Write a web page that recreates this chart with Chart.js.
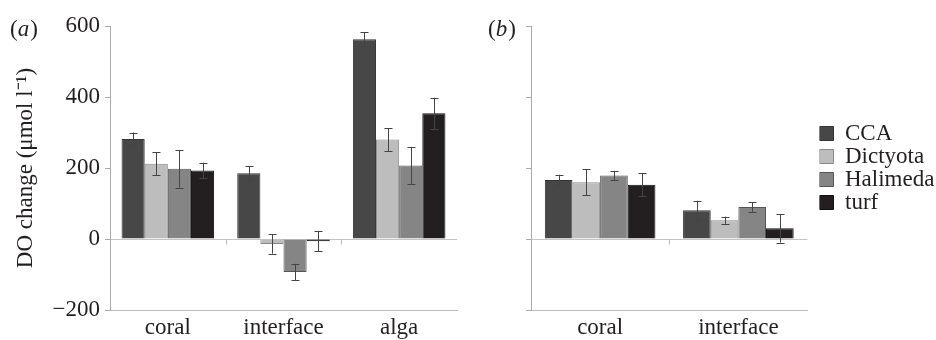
<!DOCTYPE html>
<html><head><meta charset="utf-8">
<script src="https://cdn.jsdelivr.net/npm/chart.js@4/dist/chart.umd.min.js"></script>
<style>
html,body{margin:0;padding:0;background:#fff;}
#wrap{position:relative;width:936px;height:340px;overflow:hidden;}
#ca{position:absolute;left:0;top:0;}
#cb{position:absolute;left:470px;top:0;}
.pre{font-family:"Liberation Serif";position:absolute;left:-999px;top:0;}
</style></head><body>
<div id="wrap"><canvas id="ca" width="470" height="340"></canvas><canvas id="cb" width="466" height="340"></canvas></div>
<span class="pre">x</span><span class="pre" style="font-style:italic">x</span>
<script>
// ---- data ----
const seriesNames = ['CCA', 'Dictyota', 'Halimeda', 'turf'];
const catsA = ['coral', 'interface', 'alga'];
const catsB = ['coral', 'interface'];
// panel (a) means and error (+/-)
const A_CCA = [282, 185, 563];
const A_Dictyota = [212, -14, 280];
const A_Halimeda = [198, -93, 207];
const A_turf = [193, -6, 354];
const A_CCA_err = [18, 20, 19];
const A_Dictyota_err = [33, 27, 32];
const A_Halimeda_err = [53, 23, 52];
const A_turf_err = [22, 29, 44];
// panel (b)
const B_CCA = [166, 81];
const B_Dictyota = [160, 53];
const B_Halimeda = [179, 90];
const B_turf = [153, 30];
const B_CCA_err = [15, 27];
const B_Dictyota_err = [37, 10];
const B_Halimeda_err = [13, 13];
const B_turf_err = [33, 40];
const yTicks = [-200, 0, 200, 400, 600];

const fills = ['#474747', '#bdbdbd', '#858585', '#231f20'];
const borders = ['#333', '#8a8a8a', '#555', '#111'];
const SERIF = '"Liberation Serif", "Times New Roman", Times, serif';
const TXT = '#231f20';

function mkDatasets(vals, errs) {
  return vals.map((v, i) => ({
    label: seriesNames[i], data: v, errors: errs[i],
    backgroundColor: fills[i], borderColor: borders[i], borderWidth: 1,
    categoryPercentage: 0.8, barPercentage: 1.0, yAxisID: 'y'
  }));
}

const errorBars = {
  id: 'errorBars',
  afterDatasetsDraw(chart) {
    const ctx = chart.ctx, ys = chart.scales.y, xs = chart.scales.x;
    ctx.save();
    // small separator ticks on the zero line between categories
    ctx.strokeStyle = '#bbb'; ctx.lineWidth = 1;
    const y0 = Math.round(ys.getPixelForValue(0)) + 0.5;
    for (let i = 0; i < xs.ticks.length - 1; i++) {
      const xm = Math.round((xs.getPixelForTick(i) + xs.getPixelForTick(i + 1)) / 2) + 0.5;
      ctx.beginPath(); ctx.moveTo(xm, y0); ctx.lineTo(xm, y0 + 5); ctx.stroke();
    }
    ctx.strokeStyle = '#444';
    chart.data.datasets.forEach((ds, di) => {
      const meta = chart.getDatasetMeta(di);
      meta.data.forEach((el, i) => {
        const v = ds.data[i], e = ds.errors[i];
        const x = Math.round(el.x) + 0.5;
        const y1 = ys.getPixelForValue(v + e), y2 = ys.getPixelForValue(v - e);
        ctx.beginPath();
        ctx.moveTo(x, y1); ctx.lineTo(x, y2);
        ctx.moveTo(x - 4, Math.round(y1) + 0.5); ctx.lineTo(x + 4, Math.round(y1) + 0.5);
        ctx.moveTo(x - 4, Math.round(y2) + 0.5); ctx.lineTo(x + 4, Math.round(y2) + 0.5);
        ctx.stroke();
      });
    });
    ctx.restore();
  }
};

function panelLabel(letter, x, y) {
  return {
    id: 'panelLabel',
    afterDraw(chart) {
      const ctx = chart.ctx;
      ctx.save();
      ctx.fillStyle = TXT; ctx.textBaseline = 'alphabetic';
      ctx.font = '23px ' + SERIF;
      ctx.fillText('(', x, y);
      let w = ctx.measureText('(').width;
      ctx.font = 'italic 23px ' + SERIF;
      ctx.fillText(letter, x + w, y);
      w += ctx.measureText(letter).width + 1;
      ctx.font = '23px ' + SERIF;
      ctx.fillText(')', x + w, y);
      ctx.restore();
    }
  };
}

function yScale(showLabels, width, title) {
  return {
    min: -200, max: 600,
    afterBuildTicks: s => { s.ticks = yTicks.map(v => ({ value: v })); },
    afterFit: s => { s.width = width; },
    ticks: { display: showLabels, padding: 5, color: TXT, font: { family: SERIF, size: 23 },
             callback: v => String(v).replace('-', '\u2212') },
    grid: {
      color: c => (c.tick && c.tick.value === 0) ? '#c4c4c4' : 'rgba(0,0,0,0)',
      tickColor: '#aaa', tickLength: 5, lineWidth: 1
    },
    border: { display: true, color: '#aaa', width: 1 },
    title: title ? { display: true, text: title, align: 'center', color: TXT, font: { family: SERIF, size: 23 }, padding: { top: 12, bottom: 0 } } : { display: false }
  };
}
function xScale(h) {
  return {
    afterFit: s => { s.height = h; },
    grid: { display: false, drawTicks: false },
    border: { display: true, color: '#bbb', width: 1 },
    ticks: { padding: 4, color: TXT, font: { family: SERIF, size: 23 } }
  };
}
// empty, invisible spacer axis that keeps a gap between plot and legend
function spacer(w) {
  return {
    type: 'linear', position: 'right', min: 0, max: 1, display: false,
    afterFit: s => { s.width = w; }
  };
}

function draw() {
  new Chart(document.getElementById('ca'), {
    type: 'bar',
    data: { labels: catsA, datasets: mkDatasets([A_CCA, A_Dictyota, A_Halimeda, A_turf], [A_CCA_err, A_Dictyota_err, A_Halimeda_err, A_turf_err]) },
    options: {
      responsive: false, animation: false,
      layout: { padding: { top: 26, right: 13, left: 0, bottom: 0 } },
      plugins: { legend: { display: false }, tooltip: { enabled: false } },
      scales: { x: xScale(30), y: yScale(true, 110, 'DO change (μmol l⁻¹)') }
    },
    plugins: [errorBars, panelLabel('a', 10, 36)]
  });

  new Chart(document.getElementById('cb'), {
    type: 'bar',
    data: { labels: catsB, datasets: mkDatasets([B_CCA, B_Dictyota, B_Halimeda, B_turf], [B_CCA_err, B_Dictyota_err, B_Halimeda_err, B_turf_err]) },
    options: {
      responsive: false, animation: false,
      layout: { padding: { top: 26, right: 0, left: 0, bottom: 0 } },
      plugins: {
        legend: {
          display: true, position: 'right', align: 'center', fullSize: false,
          labels: { boxWidth: 14, boxHeight: 14, padding: 0, color: TXT, font: { family: SERIF, size: 23 } }
        },
        tooltip: { enabled: false }
      },
      scales: { x: xScale(30), y: yScale(false, 61, null), gap: spacer(12) }
    },
    plugins: [errorBars, panelLabel('b', 18, 36)]
  });
}
const fl = [document.fonts.load('23px "Liberation Serif"'), document.fonts.load('italic 23px "Liberation Serif"')];
Promise.all(fl).then(draw, draw);
</script>
</body></html>
